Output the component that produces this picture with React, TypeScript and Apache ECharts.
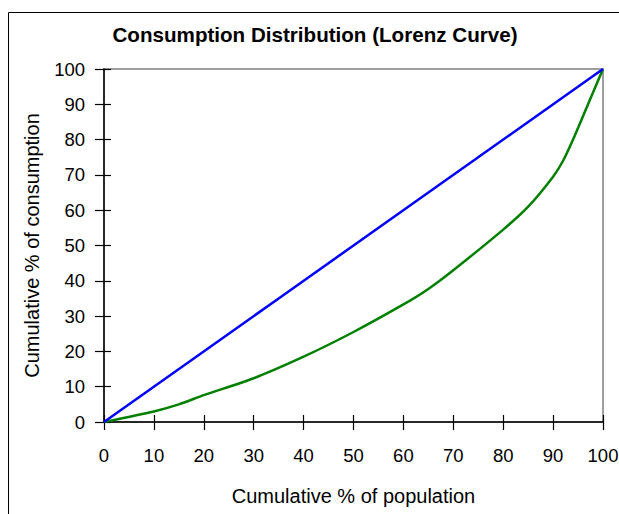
import React, { useEffect, useRef } from "react";
import * as echarts from "echarts";

const titleText = "Consumption Distribution (Lorenz Curve)";
const xName = "Cumulative % of population";
const yName = "Cumulative % of consumption";

const equalityX = [0, 35, 85, 100];
const equalityY = [0, 35, 85, 100];

const lorenzX = [0, 10, 15, 20, 30, 40, 50, 60, 65, 70, 80, 85, 90, 92, 94, 97, 100];
const lorenzY = [0, 3, 5, 7.6, 12.4, 18.5, 25.5, 33.3, 37.7, 43, 54.5, 61, 69.5, 74, 80, 90, 100];

export default function App() {
  const ref = useRef<HTMLDivElement>(null);
  useEffect(() => {
    if (!ref.current) return;
    const chart = echarts.init(ref.current, null, { renderer: "svg" });
    const font = "'Liberation Sans', Arial, sans-serif";
    const baseAxis = {
      type: "value",
      min: 0,
      max: 100,
      interval: 10,
      splitLine: { show: false },
    };
    chart.setOption({
      animation: false,
      backgroundColor: "#ffffff",
      textStyle: { fontFamily: font },
      title: {
        text: titleText,
        left: 310,
        textAlign: "center",
        top: 19,
        textStyle: { fontFamily: font, fontSize: 20.6, fontWeight: "bold", color: "#000" },
      },
      grid: {
        left: 104,
        right: 16,
        top: 69,
        bottom: 92,
        show: true,
        borderColor: "#808080",
        borderWidth: 1.5,
        backgroundColor: "transparent",
        outerBoundsMode: "none",
        containLabel: false,
      },
      graphic: [
        {
          type: "rect",
          shape: { x: 8.5, y: 12.5, width: 700, height: 600 },
          style: { fill: "none", stroke: "#000", lineWidth: 1 },
          silent: true,
          z: -1,
        },
      ],
      xAxis: [
        {
          ...baseAxis,
          name: xName,
          nameLocation: "middle",
          nameGap: 64,
          nameTextStyle: { fontFamily: font, fontSize: 20, color: "#000" },
          axisLine: { show: true, lineStyle: { color: "#000", width: 1.5 } },
          axisTick: { show: true, inside: false, length: 8, lineStyle: { color: "#000", width: 1.2 } },
          axisLabel: { fontFamily: font, fontSize: 18.5, color: "#000", margin: 24 },
        },
        {
          ...baseAxis,
          position: "bottom",
          axisLine: { show: false },
          axisTick: { show: true, inside: true, length: 7, lineStyle: { color: "#000", width: 1.2 } },
          axisLabel: { show: false },
        },
      ],
      yAxis: [
        {
          ...baseAxis,
          name: yName,
          nameLocation: "middle",
          nameGap: 62,
          nameTextStyle: { fontFamily: font, fontSize: 20, color: "#000" },
          axisLine: { show: true, lineStyle: { color: "#000", width: 1.5 } },
          axisTick: { show: true, inside: false, length: 9, lineStyle: { color: "#000", width: 1.2 } },
          axisLabel: { fontFamily: font, fontSize: 18.5, color: "#000", margin: 19 },
        },
        {
          ...baseAxis,
          position: "left",
          axisLine: { show: false },
          axisTick: { show: true, inside: true, length: 7, lineStyle: { color: "#000", width: 1.2 } },
          axisLabel: { show: false },
        },
      ],
      series: [
        {
          type: "line",
          data: equalityX.map((x, i) => [x, equalityY[i]]),
          showSymbol: false,
          symbol: "none",
          lineStyle: { color: "#0000ff", width: 2.5 },
          z: 3,
        },
        {
          type: "line",
          data: lorenzX.map((x, i) => [x, lorenzY[i]]),
          showSymbol: false,
          symbol: "none",
          smooth: 0.25,
          lineStyle: { color: "#008000", width: 2.5 },
          z: 2,
        },
      ],
    });
    return () => chart.dispose();
  }, []);
  return (
    <div
      ref={ref}
      style={{ position: "fixed", left: 0, top: 0, width: 619, height: 514 }}
    />
  );
}
